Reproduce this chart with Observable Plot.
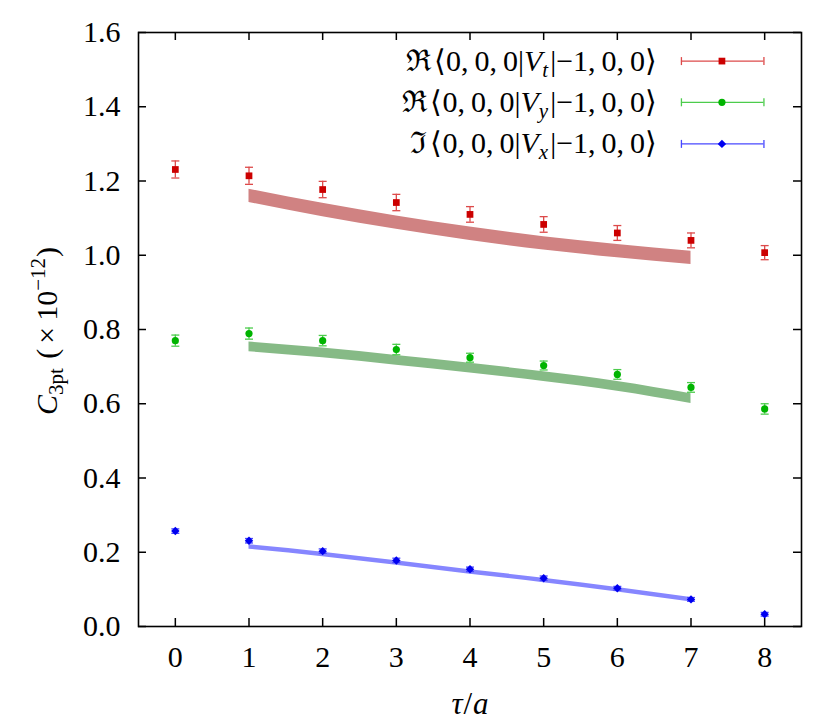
<!DOCTYPE html>
<html><head><meta charset="utf-8">
<script src="https://cdn.jsdelivr.net/npm/d3@7"></script>
<script src="https://cdn.jsdelivr.net/npm/@observablehq/plot@0.6"></script>
<style>
body{margin:0;background:#fff}
svg, svg text, svg g {font-family:"Liberation Serif","Times New Roman",serif !important}
</style>
</head><body><div id="chart"></div>
<script>
// ---------- data ----------
const tau = [0, 1, 2, 3, 4, 5, 6, 7, 8];
const vtValues = [1.231, 1.214, 1.177, 1.142, 1.110, 1.083, 1.060, 1.040, 1.007];
const vtErrors = [0.023, 0.023, 0.022, 0.022, 0.021, 0.021, 0.020, 0.020, 0.019];
const vyValues = [0.770, 0.789, 0.770, 0.746, 0.724, 0.703, 0.679, 0.644, 0.586];
const vyErrors = [0.015, 0.015, 0.014, 0.014, 0.012, 0.012, 0.013, 0.013, 0.014];
const vxValues = [0.257, 0.231, 0.203, 0.178, 0.154, 0.130, 0.103, 0.073, 0.033];
const vxErrors = [0.006, 0.006, 0.006, 0.006, 0.006, 0.006, 0.005, 0.005, 0.005];

const fitTau = [1, 2, 3, 4, 5, 6, 7];
const vtFitLow  = [1.142, 1.104, 1.070, 1.040, 1.014, 0.993, 0.975];
const vtFitHigh = [1.178, 1.140, 1.106, 1.076, 1.050, 1.029, 1.011];
const vyFitLow  = [0.740, 0.724, 0.704, 0.683, 0.660, 0.634, 0.601];
const vyFitHigh = [0.766, 0.750, 0.730, 0.709, 0.686, 0.660, 0.627];
const vxFitLow  = [0.208, 0.188, 0.165, 0.141, 0.118, 0.093, 0.066];
const vxFitHigh = [0.220, 0.200, 0.177, 0.153, 0.130, 0.105, 0.078];

const xTicks = [0, 1, 2, 3, 4, 5, 6, 7, 8];
const yTicks = [0, 0.2, 0.4, 0.6, 0.8, 1.0, 1.2, 1.4, 1.6];
const yTickLabels = ["0.0", "0.2", "0.4", "0.6", "0.8", "1.0", "1.2", "1.4", "1.6"];
const seriesNames = ["Vt", "Vy", "Vx"];

// ---------- styles ----------
const FONT = "'Liberation Serif', 'Times New Roman', serif";
const styles = {
  Vt: {point: "#cc0000", bar: "#dd4a4a", band: "#d08282", symbol: "square", r: 3.8, prefix: "ℜ", sub: "t"},
  Vy: {point: "#00b400", bar: "#4ccc4c", band: "#86ba86", symbol: "circle", r: 3.6, prefix: "ℜ", sub: "y"},
  Vx: {point: "#0000f0", bar: "#4848ff", band: "#8686ff", symbol: "diamond2", r: 3.8, prefix: "ℑ", sub: "x"}
};
const legendLayout = {textX: 6.54, lineX1: 6.87, lineX2: 7.99, markerX: 7.42, rowY: [1.523, 1.412, 1.300]};

const W = 830, H = 727, mL = 138, mR = 29, mT = 32, mB = 101;
const innerH = H - mT - mB, innerW = W - mL - mR, tickLen = 8;

// ---------- build tables ----------
const valuesBy = {Vt: vtValues, Vy: vyValues, Vx: vxValues};
const errorsBy = {Vt: vtErrors, Vy: vyErrors, Vx: vxErrors};
const lowBy = {Vt: vtFitLow, Vy: vyFitLow, Vx: vxFitLow};
const highBy = {Vt: vtFitHigh, Vy: vyFitHigh, Vx: vxFitHigh};

const hcap = {draw(ctx, size) { const w = Math.sqrt(size / Math.PI); ctx.moveTo(-w, 0); ctx.lineTo(w, 0); }};
const vcap = {draw(ctx, size) { const w = Math.sqrt(size / Math.PI); ctx.moveTo(0, -w); ctx.lineTo(0, w); }};

const marks = [];
for (const s of seriesNames) {
  const st = styles[s];
  const band = fitTau.map((t, i) => ({t, lo: lowBy[s][i], hi: highBy[s][i]}));
  marks.push(Plot.areaY(band, {x: "t", y1: "lo", y2: "hi", fill: st.band, curve: "monotone-x"}));
}
for (const s of seriesNames) {
  const st = styles[s];
  const pts = tau.map((t, i) => ({t, v: valuesBy[s][i], e: errorsBy[s][i]}));
  marks.push(Plot.ruleX(pts, {x: "t", y1: d => d.v - d.e, y2: d => d.v + d.e, stroke: st.bar, strokeWidth: 1.3}));
  marks.push(Plot.dot(pts, {x: "t", y: d => d.v - d.e, symbol: hcap, r: 4, fill: "none", stroke: st.bar, strokeWidth: 1.3}));
  marks.push(Plot.dot(pts, {x: "t", y: d => d.v + d.e, symbol: hcap, r: 4, fill: "none", stroke: st.bar, strokeWidth: 1.3}));
  marks.push(Plot.dot(pts, {x: "t", y: "v", symbol: st.symbol, r: st.r, fill: st.point, stroke: "none"}));
}
// legend
const legendRows = seriesNames.map((s, i) => ({s, y: legendLayout.rowY[i]}));
marks.push(Plot.text(legendRows, {x: legendLayout.textX, y: "y", text: d => styles[d.s].prefix + "⟨0,0,0|V" + styles[d.s].sub + "|−1,0,0⟩",
  textAnchor: "end", fontSize: 30, fill: "black", className: "legend-label"}));
for (const row of legendRows) {
  const st = styles[row.s];
  marks.push(Plot.ruleY([row], {y: "y", x1: legendLayout.lineX1, x2: legendLayout.lineX2, stroke: st.bar, strokeWidth: 1.3}));
  marks.push(Plot.dot([row, row], {x: (d, i) => i ? legendLayout.lineX2 : legendLayout.lineX1, y: "y", symbol: vcap, r: 4, fill: "none", stroke: st.bar, strokeWidth: 1.3}));
  marks.push(Plot.dot([row], {x: legendLayout.markerX, y: "y", symbol: st.symbol, r: st.r, fill: st.point}));
}
// frame and inward ticks (mirrored)
marks.push(Plot.frame({stroke: "black", strokeWidth: 1.6}));
marks.push(Plot.ruleX(xTicks, {x: d => d, insetTop: innerH - tickLen, stroke: "black", strokeWidth: 1.5}));
marks.push(Plot.ruleX(xTicks, {x: d => d, insetBottom: innerH - tickLen, stroke: "black", strokeWidth: 1.5}));
marks.push(Plot.ruleY(yTicks, {y: d => d, insetRight: innerW - tickLen, stroke: "black", strokeWidth: 1.5}));
marks.push(Plot.ruleY(yTicks, {y: d => d, insetLeft: innerW - tickLen, stroke: "black", strokeWidth: 1.5}));
marks.push(Plot.axisX(xTicks, {tickSize: 0, tickPadding: 19, fontSize: 30, tickFormat: d => String(d), label: null}));
marks.push(Plot.axisY(yTicks, {tickSize: 0, tickPadding: 18, fontSize: 30, tickFormat: d => yTickLabels[yTicks.indexOf(d)], label: null}));

const svg = Plot.plot({
  width: W, height: H,
  marginLeft: mL, marginRight: mR, marginTop: mT, marginBottom: mB,
  x: {domain: [-0.5, 8.5], label: null},
  y: {domain: [0, 1.6], label: null},
  style: `font-family: ${FONT}; background: white; color: black;`,
  marks
});
svg.setAttribute("font-family", FONT);

// rich text helpers
const NS = "http://www.w3.org/2000/svg";
function rich(el, parts) {
  while (el.firstChild) el.removeChild(el.firstChild);
  for (const p of parts) {
    const ts = document.createElementNS(NS, "tspan");
    ts.textContent = p.t;
    if (p.italic) ts.setAttribute("font-style", "italic");
    if (p.size) ts.setAttribute("font-size", p.size);
    if (p.dy) ts.setAttribute("dy", p.dy);
    if (p.dx) ts.setAttribute("dx", p.dx);
    el.appendChild(ts);
  }
}
d3.select(svg).selectAll(".legend-label text").each(function() {
  const txt = this.textContent;
  const prefix = txt[0];
  const sub = txt.match(/V(.)\|/)[1];
  rich(this, [
    {t: prefix}, {t: "⟨0,\u20090,\u20090|", dx: 3},
    {t: "V", italic: true}, {t: sub, italic: true, size: 21, dy: 6},
    {t: "|−1,\u20090,\u20090⟩", dy: -6, dx: 2}
  ]);
});

// axis titles
const yl = document.createElementNS(NS, "text");
yl.setAttribute("transform", "translate(57,331) rotate(-90)");
yl.setAttribute("text-anchor", "middle");
yl.setAttribute("font-size", 30);
rich(yl, [
  {t: "C", italic: true}, {t: "3pt", size: 21, dy: 6},
  {t: " (", dy: -6, dx: 2}, {t: "×", dx: 5}, {t: "10", dx: 6}, {t: "−12", size: 21, dy: -12}, {t: ")", dy: 12, dx: 1}
]);
svg.appendChild(yl);
const xl = document.createElementNS(NS, "text");
xl.setAttribute("x", 470); xl.setAttribute("y", 714);
xl.setAttribute("text-anchor", "middle");
xl.setAttribute("font-size", 31);
rich(xl, [{t: "τ", italic: true}, {t: "/", dx: 1}, {t: "a", italic: true, dx: 1}]);
svg.appendChild(xl);

document.getElementById("chart").appendChild(svg);
</script>
</body></html>
